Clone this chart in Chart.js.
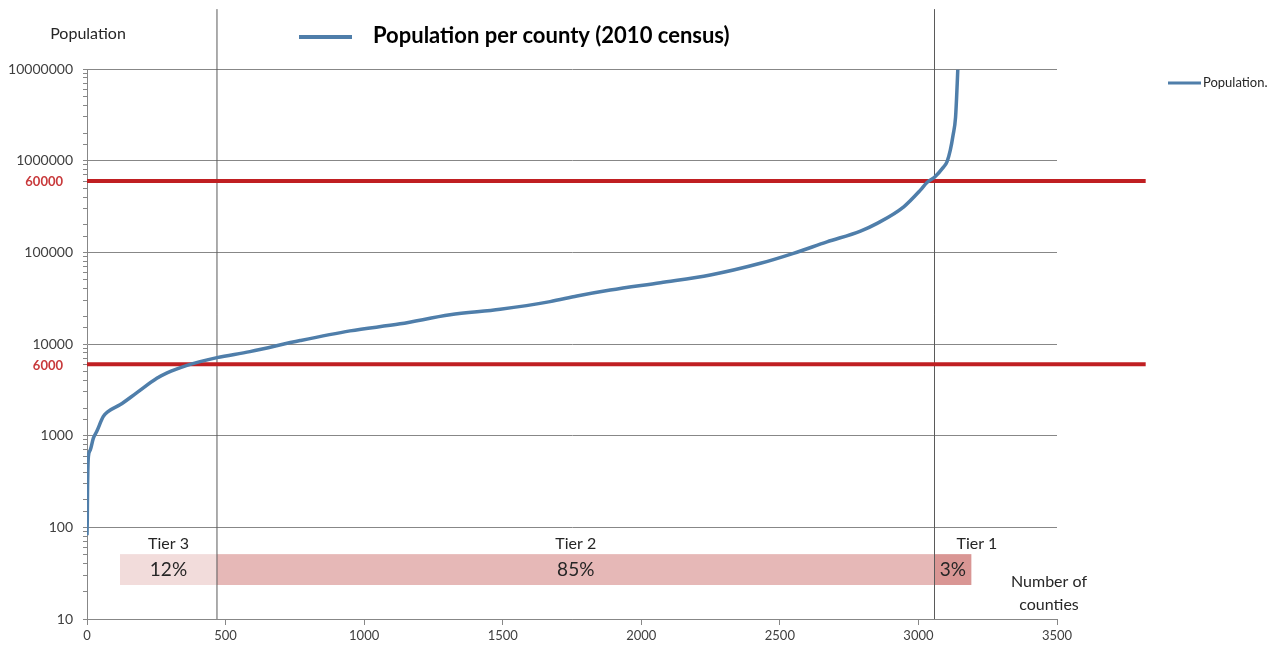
<!DOCTYPE html>
<html>
<head>
<meta charset="utf-8">
<title>Population per county (2010 census)</title>
<script src="https://cdn.jsdelivr.net/npm/chart.js@4/dist/chart.umd.min.js"></script>
<style>
  html, body { margin: 0; padding: 0; background: #fff; }
  #wrap { width: 1276px; height: 649px; }
</style>
</head>
<body>
<div id="wrap"><canvas id="popChart" width="1276" height="649"></canvas></div>
<script>
/* ---- data ---- */
// counties sorted by population: rank on x, population on y
const countyRank = [0, 1, 2, 3, 5, 12, 23, 35, 59, 77, 119, 179, 252, 289, 361, 408, 469, 588,
  769, 949, 1130, 1310, 1491, 1671, 1768, 1888, 2069, 2249, 2430, 2549, 2670, 2791, 2851,
  2947, 3007, 3031, 3058, 3091, 3103, 3115, 3125, 3134, 3140, 3142];
const countyPop = [82, 120, 280, 420, 590, 700, 940, 1110, 1620, 1840, 2170, 2930, 4220, 4840,
  5850, 6430, 7100, 8260, 10900, 13900, 16600, 20800, 23900, 29000, 33400, 38800, 46700,
  56600, 75900, 97500, 130000, 170600, 207000, 314000, 477000, 579000, 660000, 856000,
  970000, 1300000, 1900000, 2980000, 6980000, 9800000];

// red threshold lines (value, printed label)
const thresholdValues = [6000, 600000];
const thresholdLabels = ['6000', '60000'];

// tier split points (county rank)
const tierBounds = [469, 3058];
const tierNames = ['Tier 3', 'Tier 2', 'Tier 1'];
const tierShares = ['12%', '85%', '3%'];
const tierFrom = [119, 469, 3058];
const tierTo = [469, 3058, 3191];

const xTickStep = 500;
const yTickLabels = [10, 100, 1000, 10000, 100000, 1000000, 10000000];

/* ---- styles ---- */
const FONT = 'Lato, "Open Sans", sans-serif';
const BLUE = '#4f7eaa';
const RED = '#c01f22';
const GRID = '#878787';
const TXT = '#262626';
const tierColors = ['#f2dcdb', '#e6b8b7', '#d99694'];

const isPow10 = v => yTickLabels.includes(v);

/* boxes, titles and labels drawn on top of the chart */
const overlayPlugin = {
  id: 'overlay',
  beforeDatasetsDraw(chart) {
    const { ctx, scales: { x, y } } = chart;
    const top = y.getPixelForValue(51);
    const bottom = y.getPixelForValue(23.5);
    ctx.save();
    tierFrom.forEach((f, i) => {
      const l = x.getPixelForValue(f);
      const r = x.getPixelForValue(tierTo[i]);
      ctx.fillStyle = tierColors[i];
      ctx.fillRect(l, top, r - l, bottom - top);
    });
    ctx.restore();
  },
  afterDraw(chart) {
    const { ctx, chartArea, scales: { x, y } } = chart;
    ctx.save();
    ctx.textBaseline = 'middle';

    // title with its legend line
    ctx.strokeStyle = BLUE;
    ctx.lineWidth = 4;
    ctx.beginPath();
    ctx.moveTo(299, 37);
    ctx.lineTo(352, 37);
    ctx.stroke();
    ctx.fillStyle = '#000';
    ctx.font = 'bold 22px ' + FONT;
    ctx.textAlign = 'left';
    ctx.fillText('Population per county (2010 census)', 373, 36);

    // y axis title
    ctx.fillStyle = TXT;
    ctx.font = '16px ' + FONT;
    ctx.textAlign = 'center';
    ctx.fillText('Population', 88, 34);

    // right legend
    ctx.strokeStyle = BLUE;
    ctx.lineWidth = 3;
    ctx.beginPath();
    ctx.moveTo(chartArea.right + 111, 83);
    ctx.lineTo(chartArea.right + 144, 83);
    ctx.stroke();
    ctx.font = '13px ' + FONT;
    ctx.textAlign = 'left';
    ctx.fillStyle = TXT;
    ctx.fillText('Population.', chartArea.right + 146, 83);

    // threshold labels
    ctx.font = 'bold 13px ' + FONT;
    ctx.textAlign = 'right';
    ctx.fillStyle = '#c8393b';
    thresholdValues.forEach((v, i) => {
      ctx.fillText(thresholdLabels[i], chartArea.left - 24, y.getPixelForValue(v) + 1);
    });

    // tier labels
    ctx.fillStyle = TXT;
    ctx.textAlign = 'center';
    tierFrom.forEach((f, i) => {
      const cx = (x.getPixelForValue(f) + x.getPixelForValue(tierTo[i])) / 2;
      ctx.font = '19px ' + FONT;
      ctx.fillText(tierShares[i], cx, y.getPixelForValue(34));
      ctx.font = '16px ' + FONT;
      const lx = i === 2 ? cx + 24 : cx;
      ctx.fillText(tierNames[i], lx, y.getPixelForValue(66));
    });

    // x axis title
    ctx.font = '16px ' + FONT;
    ctx.fillText('Number of', chartArea.right - 8, 582);
    ctx.fillText('counties', chartArea.right - 8, 605);
    ctx.restore();
  }
};

const datasets = [{
  label: 'Population',
  data: countyRank.map((r, i) => ({ x: r, y: countyPop[i] })),
  borderColor: BLUE,
  borderWidth: 3.5,
  pointRadius: 0,
  cubicInterpolationMode: 'monotone',
  fill: false
}];

thresholdValues.forEach(v => {
  datasets.push({
    label: 'threshold ' + v,
    data: [{ x: 0, y: v }, { x: 3820, y: v }],
    borderColor: RED,
    borderWidth: 4,
    pointRadius: 0,
    clip: false,
    fill: false
  });
});

tierBounds.forEach(b => {
  datasets.push({
    label: 'bound ' + b,
    data: [{ x: b, y: 10 }, { x: b, y: 45000000 }],
    borderColor: '#5a5a5a',
    borderWidth: 1,
    pointRadius: 0,
    clip: false,
    fill: false
  });
});

new Chart(document.getElementById('popChart'), {
  type: 'line',
  data: { datasets },
  options: {
    responsive: false,
    animation: false,
    layout: { padding: { left: 0, right: 219, top: 69, bottom: 0 } },
    plugins: {
      legend: { display: false },
      tooltip: { enabled: false }
    },
    scales: {
      x: {
        type: 'linear',
        min: 0,
        max: 3500,
        afterFit: s => { s.height = 30; },
        ticks: {
          stepSize: xTickStep,
          padding: 3,
          color: '#404040',
          font: { family: FONT, size: 13 },
          callback: v => String(v)
        },
        grid: { drawOnChartArea: false, color: GRID, tickLength: 6 },
        border: { color: GRID }
      },
      y: {
        type: 'logarithmic',
        min: 10,
        max: 10000000,
        afterFit: s => { s.width = 87; },
        ticks: {
          autoSkip: false,
          padding: 10,
          color: '#404040',
          font: { family: FONT, size: 14 },
          callback: v => isPow10(v) ? String(v) : ''
        },
        grid: {
          color: c => (c.tick && isPow10(c.tick.value)) ? GRID : 'rgba(0,0,0,0)',
          tickColor: GRID,
          tickLength: 4
        },
        border: { color: GRID }
      }
    }
  },
  plugins: [overlayPlugin]
});
</script>
</body>
</html>
